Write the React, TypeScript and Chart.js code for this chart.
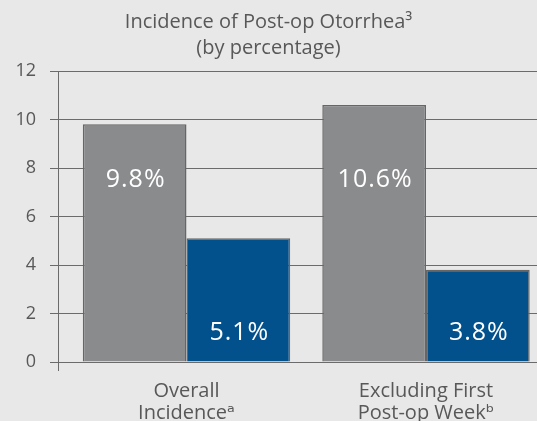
import React, { useEffect, useRef } from "react";
import { Chart, registerables } from "chart.js";

Chart.register(...registerables);

const categories: string[][] = [["Overall", "Incidenceᵃ"], ["Excluding First", "Post-op Weekᵇ"]];
const seriesA: number[] = [9.8, 10.6];
const seriesB: number[] = [5.1, 3.8];
const labelsA: string[] = ["9.8%", "10.6%"];
const labelsB: string[] = ["5.1%", "3.8%"];
const yTicks: number[] = [0, 2, 4, 6, 8, 10, 12];
const titleLines: string[] = ["Incidence of Post-op Otorrhea³", "(by percentage)"];

const FONT = "'Open Sans', 'DejaVu Sans', sans-serif";
const TEXT = "#585858";
const LINE = "#6b6b6b";

const shiftX = {
  id: "shiftX",
  afterLayout(chart: any) {
    const x = chart.scales.x;
    x._startPixel = chart.chartArea.left + 8.75;
  },
  afterDraw(chart: any) {
    const ctx = chart.ctx;
    const a = chart.chartArea;
    ctx.save();
    ctx.strokeStyle = LINE;
    ctx.lineWidth = 1;
    ctx.beginPath();
    ctx.moveTo(a.left + 0.5, a.bottom);
    ctx.lineTo(a.left + 0.5, a.bottom + 9);
    ctx.stroke();
    ctx.restore();
  },
};

const valueLabels = {
  id: "valueLabels",
  afterDatasetsDraw(chart: any) {
    const ctx = chart.ctx;
    const y = chart.scales.y;
    ctx.save();
    ctx.fillStyle = "#ffffff";
    ctx.font = `25px ${FONT}`;
    try { (ctx as any).letterSpacing = "1px"; } catch (e) {}
    ctx.textAlign = "center";
    ctx.textBaseline = "middle";
    const sets = [
      { idx: 0, labels: labelsA, at: 7.5 },
      { idx: 1, labels: labelsB, at: 1.2 },
    ];
    sets.forEach((s) => {
      const meta = chart.getDatasetMeta(s.idx);
      meta.data.forEach((bar: any, i: number) => {
        ctx.fillText(s.labels[i], bar.x + 1, y.getPixelForValue(s.at));
      });
    });
    ctx.restore();
  },
};

export default function App() {
  const ref = useRef<HTMLCanvasElement>(null);
  useEffect(() => {
    const chart = new Chart(ref.current!, {
      type: "bar",
      data: {
        labels: categories,
        datasets: [
          {
            data: seriesA,
            backgroundColor: "#8a8b8d",
            borderColor: "#666666",
            borderWidth: 1.5,
            categoryPercentage: 0.866,
            barPercentage: 1.0,
          },
          {
            data: seriesB,
            backgroundColor: "#03518c",
            borderColor: "#666666",
            borderWidth: 1.5,
            categoryPercentage: 0.866,
            barPercentage: 1.0,
          },
        ],
      },
      options: {
        animation: false,
        responsive: false,
        maintainAspectRatio: false,
        layout: { padding: { top: 9, right: 0, left: 0, bottom: 0 } },
        plugins: {
          legend: { display: false },
          tooltip: { enabled: false },
          title: {
            display: true,
            text: titleLines,
            color: TEXT,
            font: { family: FONT, size: 20, weight: "normal", lineHeight: 1.3 },
            padding: { top: 0, bottom: 10 },
          },
        },
        scales: {
          x: {
            afterFit: (s: any) => {
              s.height = 59;
            },
            grid: { display: false },
            border: { display: false },
            ticks: {
              color: TEXT,
              font: { family: FONT, size: 20, lineHeight: 1.1 },
              padding: 10,
            },
          },
          y: {
            min: 0,
            max: 12,
            afterFit: (s: any) => {
              s.width = 58;
            },
            afterBuildTicks: (s: any) => {
              s.ticks = yTicks.map((v) => ({ value: v }));
            },
            grid: { color: LINE, tickLength: 8, lineWidth: 1 },
            border: { display: true, color: LINE, width: 1 },
            ticks: {
              color: TEXT,
              font: { family: FONT, size: 18 },
              padding: 14,
            },
          },
        },
      },
      plugins: [shiftX, valueLabels],
    } as any);
    return () => chart.destroy();
  }, []);
  return (
    <div style={{ position: "absolute", left: 0, top: 0, width: 537, height: 421, background: "#e8e8e8" }}>
      <canvas ref={ref} width={537} height={421} style={{ display: "block" }} />
    </div>
  );
}
